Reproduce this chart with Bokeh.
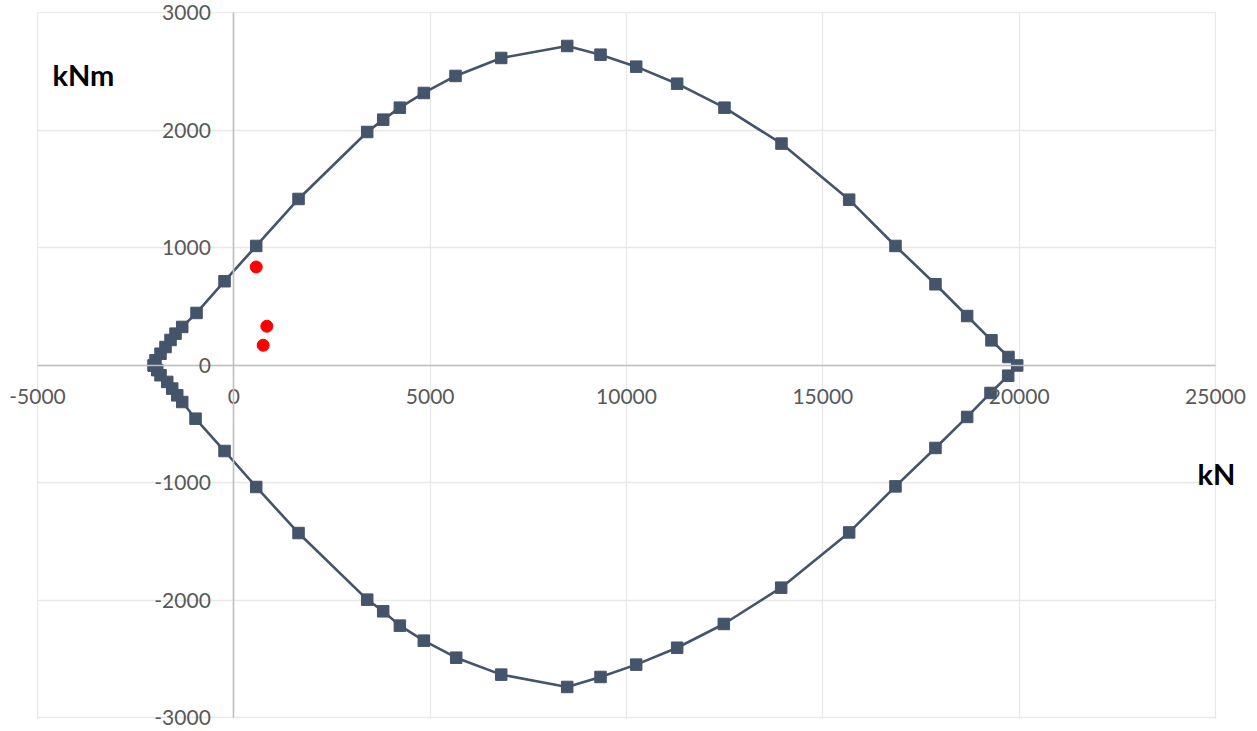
from bokeh.plotting import figure
from bokeh.models import (Range1d, LinearAxis, Grid, SingleIntervalTicker, Label,
                          BoxAnnotation, PrintfTickFormatter)
from bokeh.embed import file_html
from bokeh.resources import INLINE

# Interaction diagram (kN vs kNm)
upper_N = [-2040, -1995, -1867, -1740, -1612, -1485, -1314, -950, -237, 570, 1648,
           3397, 3804, 4228, 4838, 5646, 6809, 8490, 9338, 10247, 11290, 12495,
           13947, 15670, 16850, 17868, 18675, 19294, 19727, 19950]
upper_M = [0, 44, 100, 157, 217, 271, 328, 447, 717, 1017, 1417,
           1987, 2092, 2194, 2319, 2464, 2617, 2719, 2645, 2543, 2398, 2194,
           1888, 1411, 1017, 691, 421, 214, 72, 0]
lower_N = [19720, 19270, 18675, 17868, 16850, 15670, 13939, 12478, 11290, 10247,
           9338, 8490, 6809, 5663, 4838, 4228, 3804, 3397, 1648, 570, -237, -975,
           -1314, -1441, -1569, -1696, -1867, -1950, -2040]
lower_M = [-87, -234, -438, -702, -1029, -1421, -1891, -2200, -2402, -2546,
           -2651, -2736, -2631, -2487, -2342, -2214, -2092, -1993, -1426, -1034, -728, -453,
           -311, -254, -197, -140, -83, -40, 0]

# Load points
red_N = [570, 841, 748]
red_M = [838, 334, 172]

x_min, x_max, x_step = -5000, 25000, 5000
y_min, y_max, y_step = -3000, 3000, 1000
x_label = "kN"
y_label = "kNm"

N_all = upper_N + lower_N
M_all = upper_M + lower_M

W, H = 1250, 731
p = figure(width=W, height=H, x_range=Range1d(-5942, 25891), y_range=Range1d(-3115, 3106),
           output_backend="svg", toolbar_location=None,
           x_axis_location=None, y_axis_location=None,
           min_border_left=0, min_border_right=0, min_border_top=0, min_border_bottom=0)
p.outline_line_color = None
p.background_fill_color = "white"
p.border_fill_color = "white"

grid_color = "#e8e8e8"
p.add_layout(Grid(dimension=0, ticker=SingleIntervalTicker(interval=x_step),
                  grid_line_color=grid_color, grid_line_width=1.3))
p.add_layout(Grid(dimension=1, ticker=SingleIntervalTicker(interval=y_step),
                  grid_line_color=grid_color, grid_line_width=1.3))

# white masks so the grid stops at the plot box
for kw in (dict(right=x_min - 20), dict(left=x_max + 20),
           dict(bottom=y_max + 7), dict(top=y_min - 7)):
    p.add_layout(BoxAnnotation(fill_color="white", fill_alpha=1.0, line_color=None,
                               level="underlay", **kw))

tick_font = "Lato"
tick_size = "21px"
tick_color = "#595959"

xaxis = LinearAxis(fixed_location=0, bounds=(x_min, x_max),
                   ticker=SingleIntervalTicker(interval=x_step),
                   formatter=PrintfTickFormatter(format="%d"),
                   major_tick_line_color=None, minor_tick_line_color=None,
                   axis_line_color="#bfbfbf", axis_line_width=1.6,
                   major_label_standoff=18, major_label_text_font=tick_font,
                   major_label_text_font_size=tick_size, major_label_text_color=tick_color)
p.add_layout(xaxis, "below")

yaxis = LinearAxis(fixed_location=0, bounds=(y_min, y_max),
                   ticker=SingleIntervalTicker(interval=y_step),
                   formatter=PrintfTickFormatter(format="%d"),
                   major_tick_line_color=None, minor_tick_line_color=None,
                   axis_line_color="#bfbfbf", axis_line_width=1.6,
                   major_label_standoff=17, major_label_text_font=tick_font,
                   major_label_text_font_size=tick_size, major_label_text_color=tick_color)
p.add_layout(yaxis, "left")

series_color = "#44546A"
p.line(N_all, M_all, line_color=series_color, line_width=2.6)
p.scatter(N_all, M_all, marker="square", size=11.5, fill_color=series_color, line_color=series_color)
p.scatter(red_N, red_M, marker="circle", size=12, fill_color="#FF0000", line_color="#FF0000")

p.add_layout(Label(x=-4618, y=2476, text=y_label, text_font="Lato", text_font_style="bold",
                   text_font_size="29px", text_color="black", text_baseline="alphabetic"))
p.add_layout(Label(x=24541, y=-917, text=x_label, text_font="Lato", text_font_style="bold",
                   text_font_size="29px", text_color="black", text_baseline="alphabetic"))

open("out.html", "w").write(file_html(p, INLINE))
